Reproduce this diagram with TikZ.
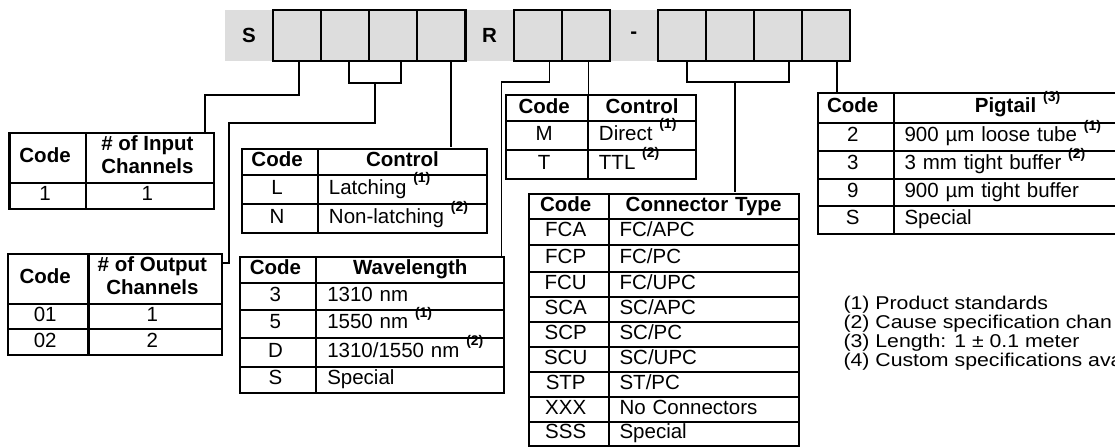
\documentclass[tikz,border=0pt]{standalone}
\usepackage{fontspec}
\setmainfont{Liberation Sans}
\usepackage{graphicx}
\usepackage{tikz}
\usetikzlibrary{matrix, calc, positioning}
\definecolor{slotgray}{RGB}{221,221,221}
\newcommand\tabfont{\fontsize{20.5pt}{23pt}\selectfont}
\newcommand\notefont{\fontsize{18.5pt}{19pt}\selectfont}
\newcommand\fnmark[1]{\raisebox{11.5pt}{\fontsize{14pt}{14pt}\selectfont\bfseries(#1)}}
\newcommand\twoline[2]{\begin{tabular}{@{}c@{}}#1\\#2\end{tabular}}

\begin{document}
\begin{tikzpicture}[
        x=1pt, y=-1pt,
        slot/.style = {draw, line width=2.1pt, fill=slotgray, minimum width=48.1pt, minimum height=50.7pt, inner sep=0pt, outer sep=0pt},
        letter/.style = {inner sep=0pt, font=\tabfont\bfseries},
        cell/.style = {draw, line width=2.1pt, anchor=center, inner sep=0pt, text height=15pt, text depth=5pt, font=\tabfont, align=center},
        codetable/.style = {matrix of nodes, inner sep=0pt, row sep=-2.1pt, column sep=-2.1pt, anchor=north west, nodes={cell}},
        rh/.style args = {#1:#2}{row #1/.style={nodes={minimum height=#2}}},
        cw/.style args = {#1:#2}{column #1/.style={nodes={minimum width=#2}}},
        leftcol/.style = {column 2/.append style={nodes={text width=#1, inner xsep=11pt, align=left}}, row 1 column 2/.style={nodes={align=center}}},
        link/.style = {draw, line width=1.7pt},
        note/.style = {anchor=base west, inner sep=0pt, font=\notefont}
    ]
        \useasboundingbox (0,0) rectangle (1115,447);
        \clip (0,0) rectangle (1115,447);

        % Part number bar
        \fill [slotgray] (225,10) rectangle (850.3,60.7);
        \foreach \k/\t in {0/S,5/R,8/-}
            \node (d\k) [letter] at (249.05+48.1*\k,35.35) {\t};
        \foreach \k in {1,2,3,4,6,7,9,10,11,12}
            \node (d\k) [slot] at (249.05+48.1*\k,35.35) {};

        % Code tables
        \matrix (inp) [codetable, cw/.list={1:76.7pt,2:128pt}, rh/.list={1:50pt,2:25.6pt}] at (8.3,131.7) {
            \textbf{Code} & \textbf{\twoline{\# of Input}{Channels}} \\
            1 & 1 \\
        };
        \matrix (outp) [codetable, cw/.list={1:81pt,2:133.4pt}, rh/.list={1:50pt,2:25.7pt,3:26pt}] at (6.3,252.3) {
            \textbf{Code} & \textbf{\twoline{\# of Output}{Channels}} \\
            01 & 1 \\
            02 & 2 \\
        };
        \matrix (ctrl) [codetable, cw/.list={1:76pt,2:169pt}, leftcol=147pt, rh/.list={1:26.7pt,2:28.3pt,3:29.4pt}] at (240.7,147.3) {
            \textbf{Code} & \textbf{Control} \\
            L & Latching \fnmark{1} \\
            N & Non-latching \fnmark{2} \\
        };
        \matrix (wl) [codetable, cw/.list={1:76pt,2:188pt}, leftcol=166pt, rh/.list={1:26pt,2:26.6pt,3:28pt,4:29.4pt,5:26pt}] at (239,255.7) {
            \textbf{Code} & \textbf{Wavelength} \\
            3 & 1310 nm \\
            5 & 1550 nm \fnmark{1} \\
            D & 1310/1550 nm \fnmark{2} \\
            S & Special \\
        };
        \matrix (mt) [codetable, cw/.list={1:81.7pt,2:108.3pt}, leftcol=86.3pt, rh/.list={1:26pt,2:28.3pt,3:29pt}] at (505,94) {
            \textbf{Code} & \textbf{Control} \\
            M & Direct \fnmark{1} \\
            T & TTL \fnmark{2} \\
        };
        \matrix (con) [codetable, cw/.list={1:80pt,2:190pt}, leftcol=168pt, rh/.list={1:25pt,2:26.5pt,3:26.5pt,4:25pt,5:25pt,6:25pt,7:25pt,8:25pt,9:25pt,10:24pt}] at (527.3,192.3) {
            \textbf{Code} & \textbf{Connector Type} \\
            FCA & FC/APC \\
            FCP & FC/PC \\
            FCU & FC/UPC \\
            SCA & SC/APC \\
            SCP & SC/PC \\
            SCU & SC/UPC \\
            STP & ST/PC \\
            XXX & No Connectors \\
            SSS & Special \\
        };
        \matrix (pig) [codetable, cw/.list={1:76pt,2:248pt}, leftcol=226pt, rh/.list={1:30pt,2:28pt,3:27.6pt,4:27.7pt,5:27.3pt}] at (816.3,91.7) {
            \textbf{Code} & \textbf{Pigtail \fnmark{3}} \\
            2 & 900 µm loose tube \fnmark{1} \\
            3 & 3 mm tight buffer \fnmark{2} \\
            9 & 900 µm tight buffer \\
            S & Special \\
        };

        % Footnotes
        \foreach \t [count=\i from 0] in {{(1) Product standards},{(2) Cause specification chan},{(3) Length: 1 ± 0.1 meter},{(4) Custom specifications ava}}
            \node (note\i) [note] at (843.3,309+19*\i) {\scalebox{1.15}[1]{\t}};

        % Connectors
        \coordinate (inpT) at ([xshift=-10.7pt]inp.north east);
        \draw [link] ([xshift=1.8pt]d1.south) -- ++(0,34.3) -| (inpT);

        \coordinate (outJ) at ($([xshift=3.7pt]d2.south)!0.5!([xshift=7.6pt]d3.south)+(0,22.6)$);
        \coordinate (outR) at ([yshift=-11pt]outp.north east);
        \draw [link] ([xshift=3.7pt]d2.south) |- (outJ) -| ([xshift=7.6pt]d3.south);
        \draw [link] (outJ) -- ++(0,40) -| ([xshift=5.6pt]outR) -- (outR);

        \draw [link] ([xshift=9.2pt]d4.south) -- ([xshift=9.2pt]d4.south |- ctrl.north);

        \draw [link] ([xshift=11.7pt]d6.south) -- ++(0,21) -| ([xshift=-4pt]wl.north east);
        \draw [link] ([xshift=2.6pt]d7.south) -- ([xshift=2.6pt]d7.south |- mt.north);

        \coordinate (conJ) at ([xshift=4.8pt,yshift=-21pt]d10.south);
        \draw [link] ([xshift=5.3pt]d9.south) |- (conJ) -| ([xshift=11pt]d11.south);
        \draw [link] (conJ) -- (conJ |- con.north);

        \draw [link] ([xshift=11pt]d12.south) -- ([xshift=11pt]d12.south |- pig.north);

    \end{tikzpicture}
\end{document}
